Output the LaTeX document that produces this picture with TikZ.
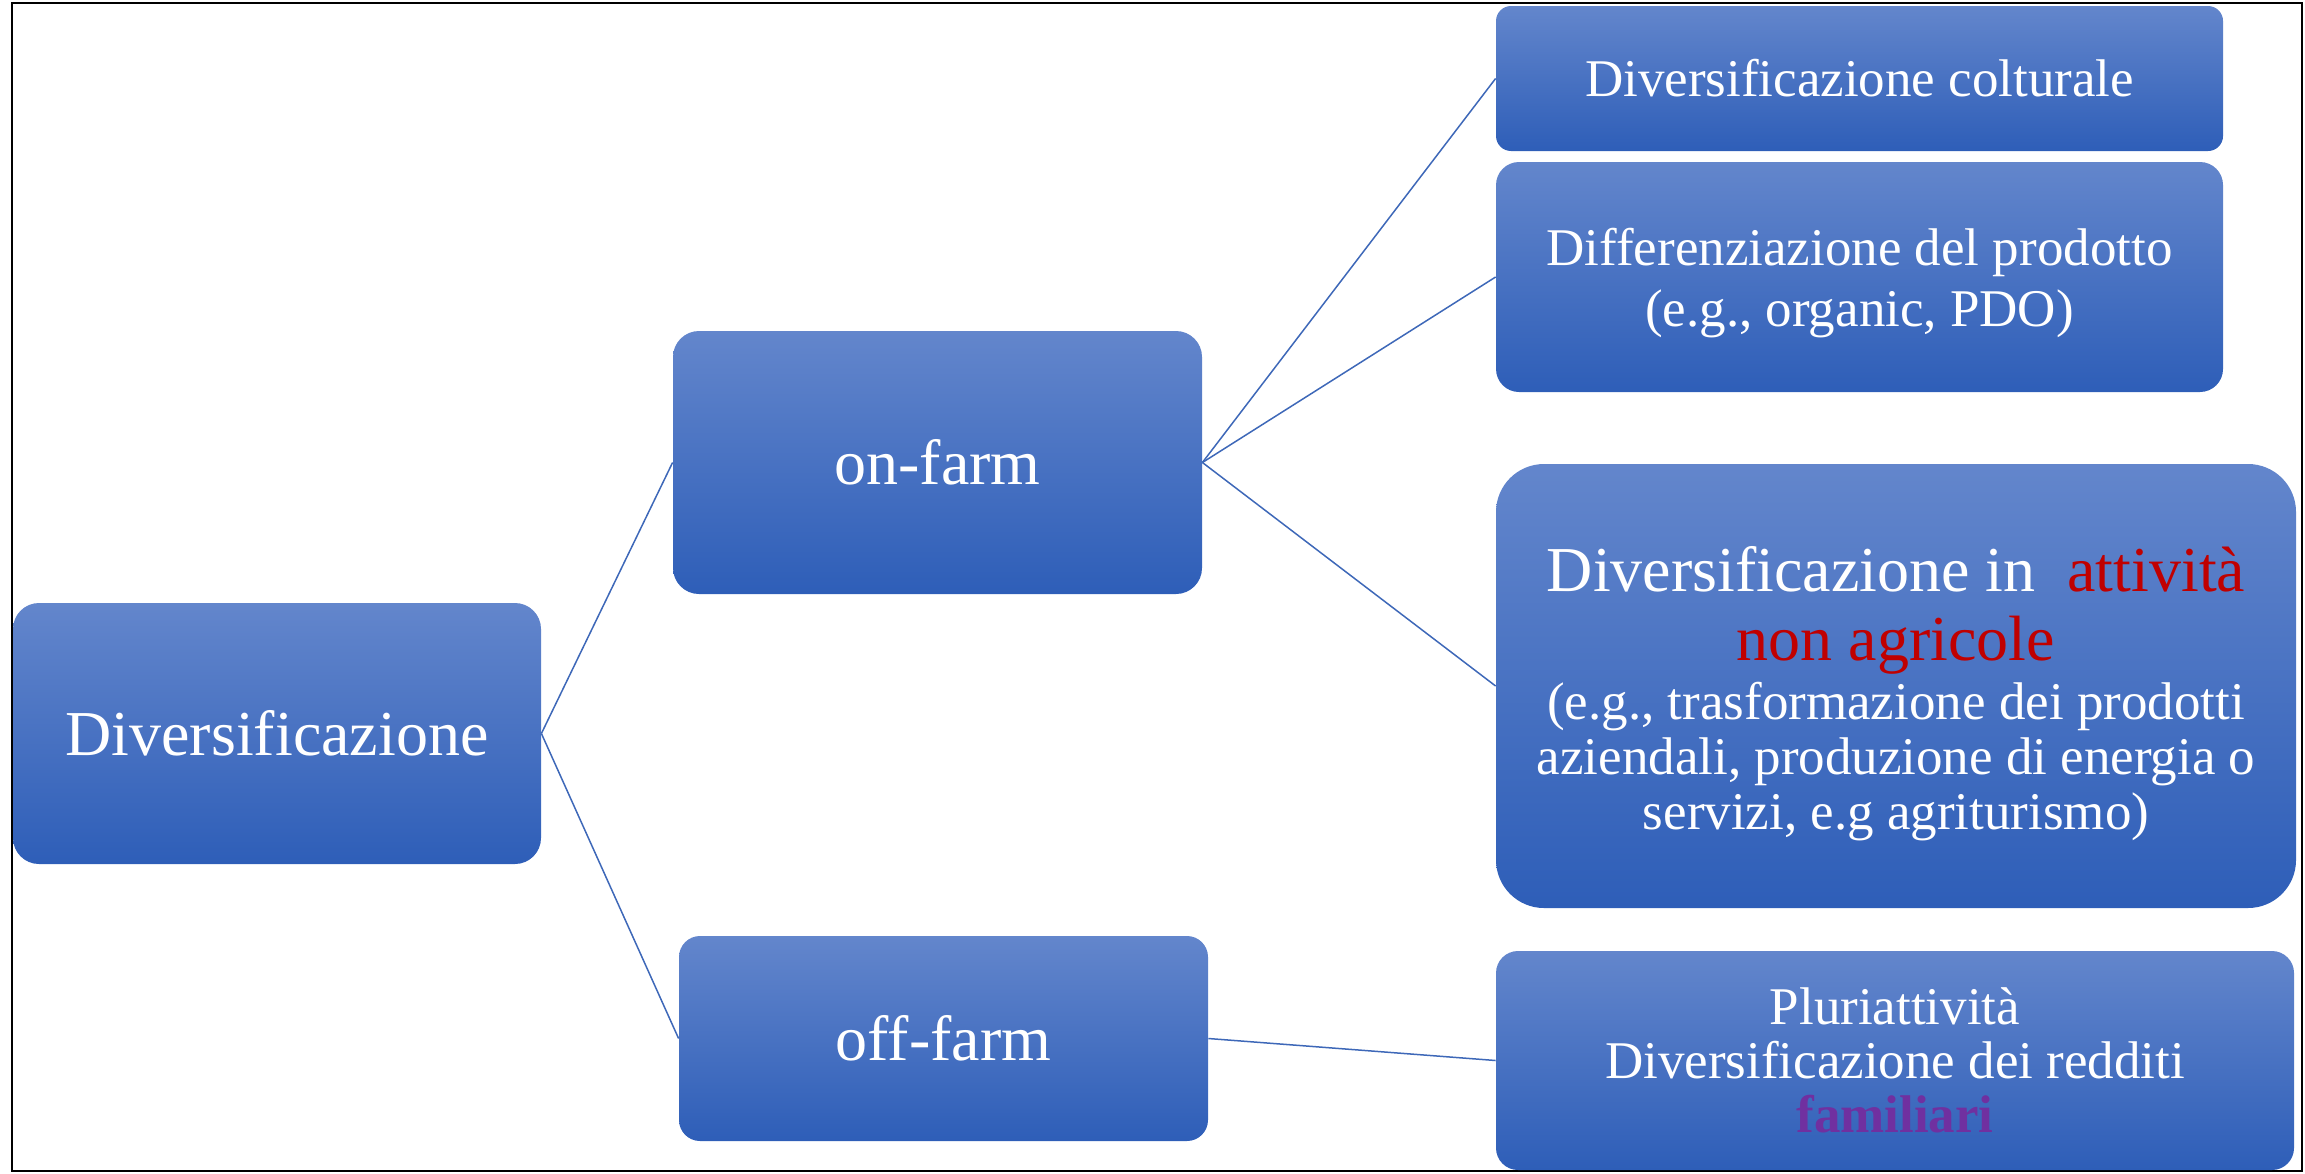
\documentclass[tikz,border=0pt]{standalone}
\usepackage{fontspec}
\setmainfont{Liberation Serif}[Ligatures=CommonOff]
\definecolor{boxtop}{RGB}{99,134,204}
\definecolor{boxbot}{RGB}{46,94,184}
\definecolor{linkc}{RGB}{62,104,184}
\definecolor{redt}{RGB}{192,0,0}
\definecolor{purp}{RGB}{112,48,160}
\lineskiplimit=-100pt
\begin{document}
\begin{tikzpicture}[x=0.5pt,y=-0.5pt,
  box/.style={rectangle, inner sep=0pt, top color=boxtop, bottom color=boxbot, draw=none, text=white, align=center},
  link/.style={draw=linkc, line width=0.75pt},
  frame/.style={draw=black, line width=1.1pt}]
\useasboundingbox (0,0) rectangle (2305,1173);
\draw[frame] (12,3) rectangle (2302,1171);

\node[box, minimum width=264pt, minimum height=130.5pt, rounded corners=13pt,
  font=\fontsize{32}{34}\selectfont] (div) at (277,733.5) {Diversificazione};
\node[box, minimum width=264.5pt, minimum height=131.5pt, rounded corners=13pt,
  font=\fontsize{32}{34}\selectfont] (on) at (937.5,462.5) {on-farm};
\node[box, minimum width=264.5pt, minimum height=102.5pt, rounded corners=10.5pt,
  font=\fontsize{32}{34}\selectfont] (off) at (943.5,1038.5) {off-farm};

\node[box, minimum width=363.5pt, minimum height=72.5pt, rounded corners=7.5pt,
  font=\fontsize{26.5}{30.5}\selectfont] (col) at (1859.5,78.5) {Diversificazione colturale};
\node[box, minimum width=363.5pt, minimum height=115pt, rounded corners=11.5pt,
  font=\fontsize{26.5}{30.5}\selectfont] (dif) at (1859.5,277)
  {\rule{0pt}{25pt}Differenziazione del prodotto\\(e.g., organic, PDO)};
\node[box, minimum width=400pt, minimum height=222pt, rounded corners=24pt,
  font=\fontsize{26.5}{27.5}\selectfont] (att) at (1896,686)
  {\fontsize{32}{27.5}\selectfont\rule{0pt}{30pt}Diversificazione in\ \ \textcolor{redt}{attività}\\[7pt]
   \fontsize{32}{27.5}\selectfont\textcolor{redt}{non agricole}\\[2pt]
   (e.g., trasformazione dei prodotti\\
   aziendali, produzione di energia o\\
   servizi, e.g agriturismo)};
\node[box, minimum width=399pt, minimum height=109.5pt, rounded corners=11pt,
  font=\fontsize{26.5}{27}\selectfont] (plu) at (1895,1060.5)
  {Pluriattività\\Diversificazione dei redditi\\\textbf{\textcolor{purp}{familiari}}};

\draw[link] (div.east) -- (on.west);
\draw[link] (div.east) -- (off.west);
\draw[link] (on.east) -- (col.west);
\draw[link] (on.east) -- (dif.west);
\draw[link] (on.east) -- (att.west);
\draw[link] (off.east) -- (plu.west);
\end{tikzpicture}
\end{document}
